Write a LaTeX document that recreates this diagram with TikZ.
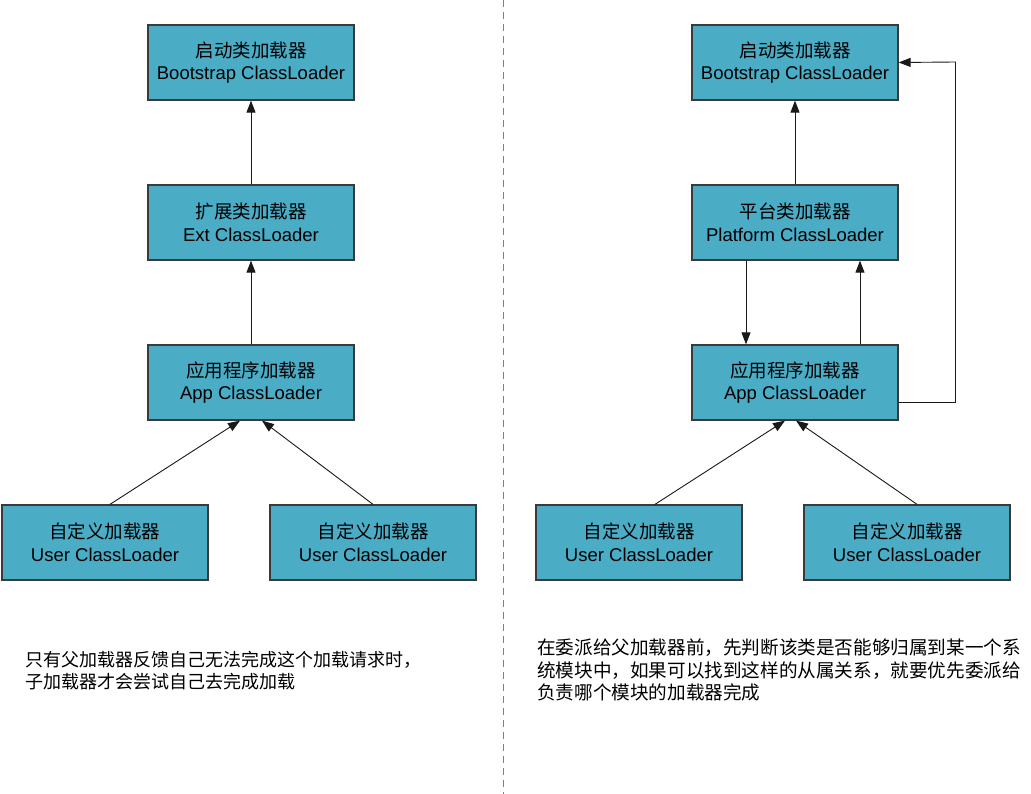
\documentclass[tikz,border=0pt]{standalone}
\usepackage{fontspec}
\setmainfont{Liberation Sans}
\newfontfamily\cjk{Noto Sans CJK SC}
\usetikzlibrary{arrows.meta}
\definecolor{boxfill}{HTML}{4BACC6}
\definecolor{boxline}{HTML}{3A3A3A}
\begin{document}
\begin{tikzpicture}[x=1pt,y=-1pt,
  loader/.style={draw=boxline,line width=1.3pt,fill=boxfill,minimum width=206pt,minimum height=75pt,
    inner sep=0pt,align=center,font=\fontsize{18.5}{22.5}\selectfont},
  conn/.style={draw=black!90,line width=0.9pt,-{Triangle[length=12pt,width=9pt]}},
  note/.style={anchor=north west,inner sep=0pt,align=left}]
\useasboundingbox (0,0) rectangle (1031,794);
\fill[white] (0,0) rectangle (1031,794);
% divider
\coordinate (dtop) at (503,0);
\coordinate (dbot) at (503,794);
\draw[gray,line width=1pt,dash pattern=on 7pt off 5pt] (dtop) -- (dbot);
% left
\node[loader] (lboot) at (251,62.5) {{\cjk 启动类加载器}\\Bootstrap ClassLoader};
\node[loader] (lext) at (251,222.5) {{\cjk 扩展类加载器}\\Ext ClassLoader};
\node[loader] (lapp) at (251,382.5) {{\cjk 应用程序加载器}\\App ClassLoader};
\node[loader] (luser1) at (105,542.5) {{\cjk 自定义加载器}\\User ClassLoader};
\node[loader] (luser2) at (373,542.5) {{\cjk 自定义加载器}\\User ClassLoader};
\draw[conn] (lext.north) -- (lboot.south);
\draw[conn] (lapp.north) -- (lext.south);
\draw[conn] ([xshift=5pt]luser1.north) -- ([xshift=-11pt]lapp.south);
\draw[conn] (luser2.north) -- ([xshift=11pt]lapp.south);
% right
\node[loader] (rboot) at (795,62.5) {{\cjk 启动类加载器}\\Bootstrap ClassLoader};
\node[loader] (rplat) at (795,222.5) {{\cjk 平台类加载器}\\Platform ClassLoader};
\node[loader] (rapp) at (795,382.5) {{\cjk 应用程序加载器}\\App ClassLoader};
\node[loader] (ruser1) at (639,542.5) {{\cjk 自定义加载器}\\User ClassLoader};
\node[loader] (ruser2) at (907,542.5) {{\cjk 自定义加载器}\\User ClassLoader};
\coordinate (fbcorner) at (955.5,62);
\draw[conn] (rplat.north) -- (rboot.south);
\draw[conn] ([xshift=-49pt]rplat.south) -- ([xshift=-49pt]rapp.north);
\draw[conn] ([xshift=65pt]rapp.north) -- ([xshift=65pt]rplat.south);
\draw[conn] ([yshift=-20pt]rapp.east) -| (fbcorner) -- (rboot.east);
\draw[conn] ([xshift=16pt]ruser1.north) -- ([xshift=-10pt]rapp.south);
\draw[conn] ([xshift=10pt]ruser2.north) -- ([xshift=1pt]rapp.south);
% notes
\node[note,font=\cjk\fontsize{18}{22.5}\selectfont] (lnote) at (25,651) {只有父加载器反馈自己无法完成这个加载请求时，\\子加载器才会尝试自己去完成加载};
\node[note,font=\cjk\fontsize{18.6}{22.5}\selectfont] (rnote) at (537,639) {在委派给父加载器前，先判断该类是否能够归属到某一个系\\统模块中，如果可以找到这样的从属关系，就要优先委派给\\负责哪个模块的加载器完成};
\end{tikzpicture}
\end{document}
